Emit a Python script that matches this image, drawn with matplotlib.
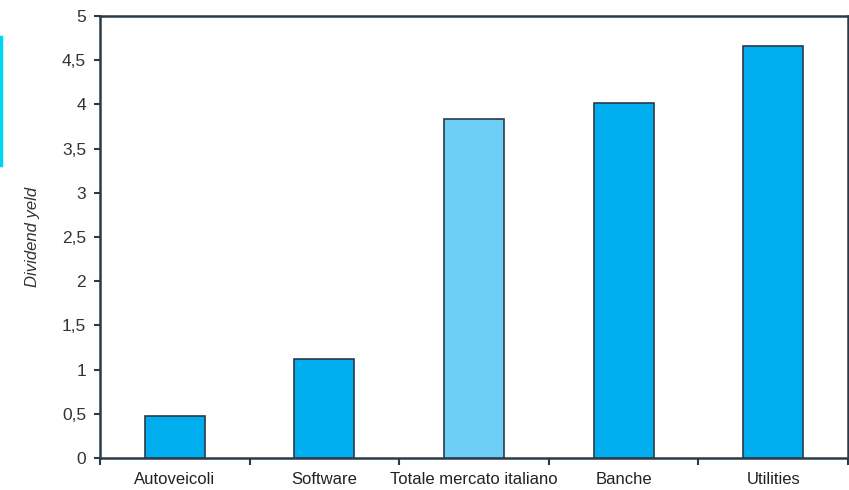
import matplotlib.pyplot as plt
from matplotlib.ticker import FixedLocator, FuncFormatter, NullFormatter
from matplotlib.lines import Line2D
from matplotlib import font_manager

# dati
categorie = ["Autoveicoli", "Software", "Totale mercato italiano", "Banche", "Utilities"]
valori = [0.48, 1.12, 3.83, 4.02, 4.66]
colori = ["#00aeef", "#00aeef", "#6dcff6", "#00aeef", "#00aeef"]
y_ticks = [0, 0.5, 1, 1.5, 2, 2.5, 3, 3.5, 4, 4.5, 5]

nomi = {f.name for f in font_manager.fontManager.ttflist}
famiglia = "Liberation Sans Narrow" if "Liberation Sans Narrow" in nomi else "Liberation Sans"
plt.rcParams["font.family"] = [famiglia, "DejaVu Sans"]
ink = "#2b3a48"

fig = plt.figure(figsize=(8.49, 4.90), dpi=100)
ax = fig.add_axes([100 / 849, 32 / 490, 748 / 849, 442 / 490])

x = list(range(len(categorie)))
ax.bar(x, valori, width=0.4, color=colori, edgecolor=ink, linewidth=1.2, zorder=3)

ax.set_xlim(-0.5, len(categorie) - 0.5)
ax.set_ylim(0, 5)
ax.yaxis.set_major_locator(FixedLocator(y_ticks))
ax.yaxis.set_major_formatter(FuncFormatter(lambda v, p: ("%g" % v).replace(".", ",")))

ax.set_xticks(x)
ax.set_xticklabels(categorie)
ax.xaxis.set_minor_locator(FixedLocator([i - 0.5 for i in range(len(categorie) + 1)]))
ax.xaxis.set_minor_formatter(NullFormatter())
ax.tick_params(axis="x", which="major", length=0, labelsize=12, colors="#222222", pad=10)
ax.tick_params(axis="x", which="minor", length=5, width=1.5, color=ink, direction="out")
ax.tick_params(axis="y", length=4, width=1.5, color=ink, labelsize=12.5, labelcolor="#333333", pad=6)

for s in ax.spines.values():
    s.set_color(ink)
    s.set_linewidth(1.8)

ax.set_ylabel("Dividend yeld", fontsize=12, style="italic", color="#333333", labelpad=16)

# striscia azzurra sul bordo sinistro
fig.add_artist(Line2D([1 / 849, 1 / 849], [1 - 37 / 490, 1 - 165 / 490], color="#00d4f5", linewidth=2.5))

fig.savefig("out.png", dpi=100)
